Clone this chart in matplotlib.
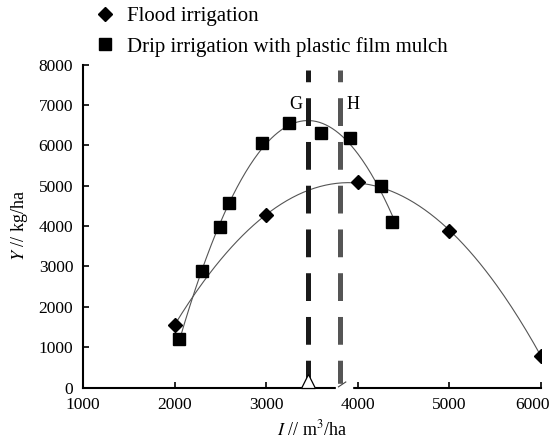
import numpy as np
import matplotlib.pyplot as plt
from matplotlib.patches import Rectangle
import matplotlib.transforms as mtransforms

plt.rcParams['font.family'] = ['Liberation Serif', 'DejaVu Serif']
plt.rcParams['mathtext.fontset'] = 'stix'
plt.rcParams['lines.scale_dashes'] = False

# Data
flood_x = [2000, 3000, 4000, 5000, 6000]
flood_y = [1550, 4275, 5080, 3890, 790]

drip_x = [2050, 2300, 2500, 2600, 2950, 3250, 3600, 3920, 4250, 4380]
drip_y = [1200, 2900, 3980, 4560, 6050, 6540, 6300, 6190, 5000, 4110]

g_x = 3460   # optimum irrigation, drip
h_x = 3810   # optimum irrigation, flood
line_top = 7860

x_ticks = [1000, 2000, 3000, 4000, 5000, 6000]
y_ticks = [0, 1000, 2000, 3000, 4000, 5000, 6000, 7000, 8000]

fig = plt.figure(figsize=(5.53, 4.42), dpi=100)
ax = fig.add_axes([0.150, 0.123, 0.828, 0.731])

# quadratic trend curves
for xs, ys in [(flood_x, flood_y), (drip_x, drip_y)]:
    c = np.polyfit(xs, ys, 2)
    xx = np.linspace(min(xs), max(xs), 200)
    ax.plot(xx, np.polyval(c, xx), color='#555555', lw=0.8, zorder=2)

ax.plot(flood_x, flood_y, 'D', color='black', ms=6.8, ls='none',
        label='Flood irrigation', zorder=5)
ax.plot(drip_x, drip_y, 's', color='black', ms=8.5, ls='none',
        label='Drip irrigation with plastic film mulch', zorder=5)

# optimum lines
ax.plot([g_x, g_x], [0, line_top], color='#1a1a1a', lw=3.6,
        dashes=(20, 11.5), zorder=3)
ax.plot([h_x, h_x], [0, line_top], color='#555555', lw=3.6,
        dashes=(20, 11.5), zorder=3)
ax.text(g_x - 60, 7000, 'G', ha='right', va='center', fontsize=13)
ax.text(h_x + 70, 7000, 'H', ha='left', va='center', fontsize=13)
ax.plot([g_x], [160], '^', ms=9.5, mfc='white', mec='black', mew=0.9,
        clip_on=False, zorder=6)

ax.set_xlim(1000, 6000)
ax.set_ylim(0, 8000)
ax.set_xticks(x_ticks)
ax.set_yticks(y_ticks)
ax.tick_params(direction='in', length=4.5, width=1.2, labelsize=12.5, pad=7)
for s in ['top', 'right']:
    ax.spines[s].set_visible(False)
for s in ['left', 'bottom']:
    ax.spines[s].set_linewidth(1.5)

# last x tick label sits a bit to the left so it stays inside the figure
last = ax.get_xticklabels()[-1]
last.set_transform(last.get_transform() +
                   mtransforms.ScaledTranslation(-8 / 100, 0, fig.dpi_scale_trans))

# axis break on the x axis
trans = mtransforms.blended_transform_factory(ax.transData, ax.transAxes)
ax.add_patch(Rectangle((3762, -0.01), 175, 0.02, transform=trans,
                       color='white', clip_on=False, zorder=4))
ax.plot([3790, 3870], [20, 140], color='#444444', lw=0.8, clip_on=False, zorder=5)

ax.set_xlabel(r'$I$ // m$^3$/ha', fontsize=13, labelpad=4)
ax.set_ylabel(r'$Y$ // kg/ha', fontsize=13, labelpad=6)

ax.legend(loc='upper left', bbox_to_anchor=(0.171, 0.985),
          bbox_transform=fig.transFigure, frameon=False, fontsize=15,
          handlelength=1.0, handletextpad=0.55, borderpad=0, borderaxespad=0,
          labelspacing=0.5, numpoints=1)

fig.savefig('out.png', dpi=100)
